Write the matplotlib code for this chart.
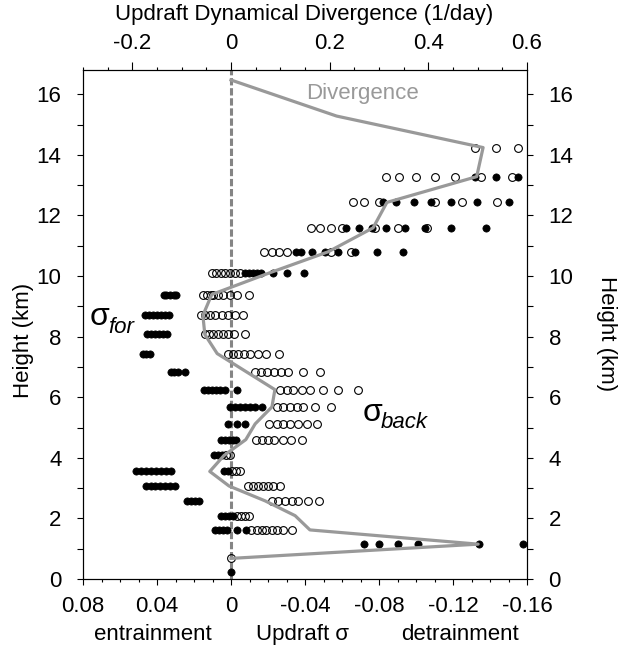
import matplotlib
matplotlib.use('Agg')
import matplotlib.pyplot as plt
from matplotlib.ticker import MultipleLocator

plt.rcParams['font.family'] = ['Liberation Sans', 'DejaVu Sans']
plt.rcParams['axes.unicode_minus'] = False

# model levels (km) where sigma was sampled
levels = [0.24, 0.68, 1.15, 1.62, 2.09, 2.58, 3.07, 3.55, 4.08, 4.60, 5.12, 5.68,
          6.25, 6.83, 7.44, 8.07, 8.70, 9.39, 10.11, 10.80, 11.59, 12.43, 13.28, 14.24]

# open circles, one list per level
sigma_open = [
    [],
    [0.0],
    [],
    [-0.011, -0.014, -0.017, -0.019, -0.022, -0.025, -0.028, -0.033],
    [-0.0032, -0.0054, -0.0076, -0.0097],
    [-0.022, -0.0256, -0.0292, -0.0328, -0.0364, -0.0418, -0.0477],
    [-0.0092, -0.0119, -0.0146, -0.0173, -0.020, -0.0227, -0.0265],
    [-0.0005, -0.0027, -0.0049],
    [0.0027, 0.0005],
    [-0.0135, -0.0168, -0.020, -0.0235, -0.0281, -0.0327, -0.0382],
    [-0.0207, -0.0247, -0.0283, -0.0319, -0.0364, -0.0409, -0.0463],
    [-0.0247, -0.0283, -0.0319, -0.0355, -0.0391, -0.0454, -0.0539],
    [-0.0265, -0.0301, -0.0337, -0.0382, -0.0427, -0.0499, -0.058, -0.0685],
    [-0.013, -0.016, -0.0195, -0.023, -0.027, -0.031, -0.039, -0.048],
    [0.0016, -0.0011, -0.0038, -0.007, -0.0103, -0.0146, -0.0189, -0.0259],
    [0.0141, 0.0119, 0.0097, 0.007, 0.0043, 0.0016, -0.0016, -0.0076],
    [0.0164, 0.0141, 0.0114, 0.0086, 0.005, 0.0015, -0.0022, -0.0066],
    [0.015, 0.013, 0.011, 0.0096, 0.0069, 0.0041, 0.0005, -0.0031, -0.0097],
    [0.0104, 0.0081, 0.0056, 0.0032, 0.0005, -0.0022, -0.0049],
    [-0.018, -0.022, -0.026, -0.030, -0.054, -0.065],
    [-0.043, -0.048, -0.054, -0.060, -0.078, -0.090, -0.106],
    [-0.066, -0.072, -0.080, -0.110, -0.125, -0.144],
    [-0.084, -0.091, -0.100, -0.110, -0.121, -0.135, -0.152],
    [-0.132, -0.143, -0.155],
]

# filled dots, one list per level
sigma_filled = [
    [0.0],
    [],
    [-0.072, -0.080, -0.090, -0.101, -0.134, -0.158],
    [0.0086, 0.0065, 0.0043, 0.0022, -0.0031, -0.0081],
    [0.0054, 0.0032, 0.0011, -0.0011],
    [0.0238, 0.0216, 0.0195, 0.0173],
    [0.0459, 0.0435, 0.0411, 0.0384, 0.0357, 0.033, 0.0305],
    [0.0513, 0.0486, 0.0459, 0.0432, 0.0405, 0.0378, 0.0351, 0.0324, 0.0038, 0.0016],
    [0.0092, 0.007, 0.0049],
    [0.0054, 0.0032, 0.0011, -0.0011, -0.0027],
    [0.0016, -0.0032, -0.0076],
    [0.0003, -0.0022, -0.0049, -0.0076, -0.0103, -0.013, -0.0167],
    [0.0146, 0.0124, 0.0103, 0.0081, 0.0059, 0.0032, -0.0032],
    [0.0324, 0.0308, 0.0286, 0.0249],
    [0.0476, 0.0457, 0.0438],
    [0.0454, 0.0432, 0.0411, 0.0389, 0.0368, 0.0346],
    [0.0465, 0.0443, 0.042, 0.040, 0.0378, 0.0357, 0.0335],
    [0.036, 0.035, 0.033, 0.031, 0.030],
    [-0.0076, -0.0097, -0.0119, -0.0141, -0.0162, -0.0229, -0.0301, -0.0396],
    [-0.035, -0.038, -0.044, -0.051, -0.058, -0.067, -0.079, -0.093],
    [-0.062, -0.069, -0.076, -0.084, -0.094, -0.105, -0.119, -0.138],
    [-0.082, -0.089, -0.099, -0.108, -0.119, -0.133, -0.150],
    [-0.132, -0.143, -0.155],
    [],
]

# updraft dynamical divergence profile (1/day)
div_height = [16.47, 15.28, 14.24, 13.28, 12.43, 11.59, 10.80, 10.11, 9.39, 8.70, 8.07,
              7.44, 6.83, 6.25, 5.68, 5.12, 4.60, 4.08, 3.55, 3.07, 2.58, 2.09, 1.62,
              1.15, 0.68]
div_value = [0.0, 0.214, 0.511, 0.498, 0.316, 0.288, 0.197, 0.079, -0.039, -0.057, -0.053,
             -0.028, 0.032, 0.089, 0.083, 0.049, 0.030, -0.014, -0.043, -0.004, 0.069, 0.130,
             0.160, 0.501, 0.0]

sigma_ticks = [0.08, 0.04, 0, -0.04, -0.08, -0.12, -0.16]
sigma_labels = ['0.08', '0.04', '0', '-0.04', '-0.08', '-0.12', '-0.16']
div_ticks = [-0.2, 0, 0.2, 0.4, 0.6]
div_labels = ['-0.2', '0', '0.2', '0.4', '0.6']
height_ticks = [0, 2, 4, 6, 8, 10, 12, 14, 16]

FS = 16

fig = plt.figure(figsize=(6.28, 6.45), dpi=100)
ax = fig.add_axes([83 / 628, 1 - 579 / 645, 444 / 628, 509 / 645])

# zero line
ax.axvline(0, color='#858585', lw=2.2, ls=(0, (2.4, 0.9)), zorder=1)

for h, vals in zip(levels, sigma_open):
    ax.plot(vals, [h] * len(vals), 'o', ms=5.6, mfc='none', mec='black', mew=0.8, zorder=3)
for h, vals in zip(levels, sigma_filled):
    ax.plot(vals, [h] * len(vals), 'o', ms=5.2, mfc='black', mec='black', mew=0.5, zorder=4)

ax.set_xlim(0.08, -0.16)
ax.set_ylim(0, 16.8)
ax.set_xticks(sigma_ticks)
ax.set_xticklabels(sigma_labels)
ax.xaxis.set_minor_locator(MultipleLocator(0.01))
ax.set_yticks(height_ticks)
ax.yaxis.set_minor_locator(MultipleLocator(1))
ax.tick_params(axis='both', which='both', direction='out', labelsize=FS, width=0.8)
ax.tick_params(axis='x', which='major', length=4.5, pad=7.5)
ax.tick_params(axis='x', which='minor', length=2.5)
ax.tick_params(axis='y', which='both', length=4.5, pad=11, right=True, labelright=True)
for s in ax.spines.values():
    s.set_linewidth(0.8)

ax.text(0.0765, 8.38, 'σ', fontsize=23, ha='left', va='baseline')
ax.text(0.0665, 8.12, 'for', fontsize=FS, style='italic', ha='left', va='baseline')
ax.text(-0.0712, 5.2, 'σ', fontsize=23, ha='left', va='baseline')
ax.text(-0.081, 4.97, 'back', fontsize=FS, style='italic', ha='left', va='baseline')

# divergence on the top axis
ax2 = ax.twiny()
ax2.plot(div_value, div_height, color='#999999', lw=2.3, zorder=2)
ax2.set_xlim(-0.3, 0.6)
ax2.set_xticks(div_ticks)
ax2.set_xticklabels(div_labels)
ax2.xaxis.set_minor_locator(MultipleLocator(0.05))
ax2.tick_params(axis='x', which='major', direction='out', length=5.8, width=0.8,
                labelsize=FS, pad=6)
ax2.tick_params(axis='x', which='minor', direction='out', length=2.5, width=0.8)
ax2.text(0.152, 15.83, 'Divergence', fontsize=FS, color='#999999', ha='left', va='baseline')

fig.text(304 / 628, 1 - 20 / 645, 'Updraft Dynamical Divergence (1/day)', fontsize=FS,
         ha='center', va='baseline')
fig.text(152.6 / 628, 1 - 640 / 645, 'entrainment', fontsize=FS, ha='center', va='baseline')
fig.text(302 / 628, 1 - 640 / 645, 'Updraft σ', fontsize=FS, ha='center', va='baseline')
fig.text(459.6 / 628, 1 - 640 / 645, 'detrainment', fontsize=FS, ha='center', va='baseline')
fig.text(24 / 628, 1 - 340 / 645, 'Height (km)', fontsize=FS, rotation=90,
         ha='center', va='center')
fig.text(606 / 628, 1 - 334 / 645, 'Height (km)', fontsize=FS, rotation=270,
         ha='center', va='center')

fig.savefig('out.png', dpi=100)
